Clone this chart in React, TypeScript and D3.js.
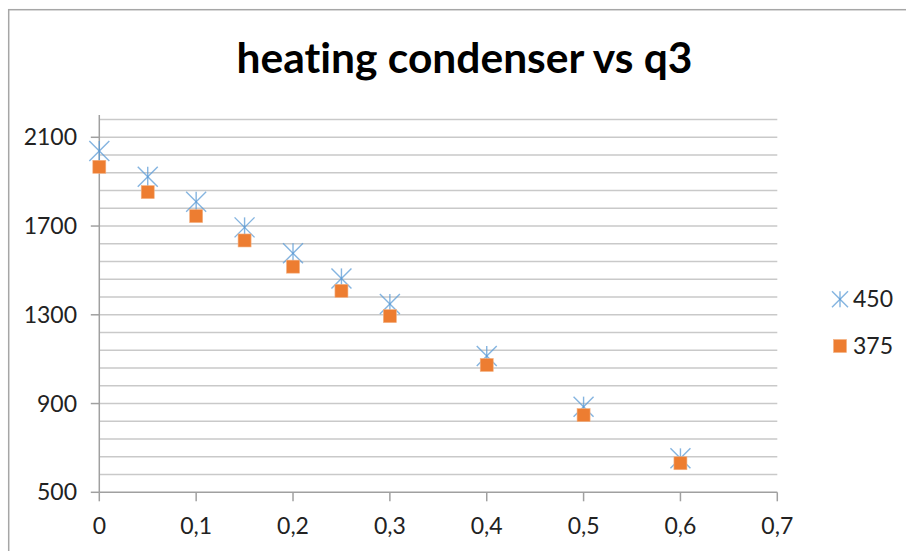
import React from "react";
import * as d3 from "d3";

const qValues = [0, 0.05, 0.1, 0.15, 0.2, 0.25, 0.3, 0.4, 0.5, 0.6];
const series450 = [2038, 1922, 1810, 1694, 1577, 1464, 1349, 1114, 886, 653];
const series375 = [1967, 1853, 1745, 1635, 1517, 1408, 1294, 1074, 848, 631];
const xTicks = [0, 0.1, 0.2, 0.3, 0.4, 0.5, 0.6, 0.7];
const yTicks = [500, 900, 1300, 1700, 2100];
const yMinorStep = 80;
const titleText = "heating condenser vs q3";
const legendLabels = ["450", "375"];

const W = 906;
const H = 551;
const FONT = "Lato, Carlito, Calibri, 'Open Sans', sans-serif";

export default function App() {
  const x = d3.scaleLinear().domain([0, 0.7]).range([99.3, 777.3]);
  const y = d3.scaleLinear().domain([500, 2200]).range([492.3, 115.1]);
  const minor = d3.range(500 + yMinorStep, 2200, yMinorStep);
  const fmt = (v: number) => String(v).replace(".", ",");

  const star = (cx: number, cy: number, r: number, key: string) => (
    <g key={key} stroke="#5B9BD5" strokeWidth={1.4} strokeOpacity={0.75} fill="none">
      <line x1={cx - r} y1={cy - r} x2={cx + r} y2={cy + r} />
      <line x1={cx - r} y1={cy + r} x2={cx + r} y2={cy - r} />
      <line x1={cx} y1={cy - r} x2={cx} y2={cy + r} />
    </g>
  );
  const square = (cx: number, cy: number, s: number, key: string) => (
    <rect key={key} x={cx - s / 2} y={cy - s / 2} width={s} height={s} fill="#ED7D31" stroke="#F4B183" strokeWidth={0.6} />
  );

  return (
    <svg width={W} height={H} style={{ position: "absolute", left: 0, top: 0, background: "#fff", fontVariantLigatures: "none" }} fontFamily={FONT}>
      <rect x={0} y={0} width={W} height={H} fill="#fff" />
      <rect x={8.7} y={9.7} width={W + 20} height={H + 20} fill="#fff" stroke="#a6a6a6" strokeWidth={1.5} />
      <text x={464.5} y={73} textAnchor="middle" fontSize={42.5} fontWeight="bold" fill="#000" style={{ fontVariantLigatures: "none" }}>{titleText}</text>

      {minor.map((v) => (
        <line key={"g" + v} x1={x(0)} x2={x(0.7)} y1={y(v)} y2={y(v)} stroke="#c9c9c9" strokeWidth={1.5} />
      ))}
      <line x1={x(0)} x2={x(0)} y1={y(2200)} y2={y(500)} stroke="#a0a0a0" strokeWidth={1.5} />
      <line x1={x(0)} x2={x(0.7)} y1={y(500)} y2={y(500)} stroke="#a0a0a0" strokeWidth={1.5} />
      {yTicks.map((v) => (
        <g key={"yt" + v}>
          <line x1={x(0) - 8.5} x2={x(0)} y1={y(v)} y2={y(v)} stroke="#a0a0a0" strokeWidth={1.5} />
          <text x={77} y={y(v)} dy="0.35em" textAnchor="end" fontSize={23} fill="#222">{v}</text>
        </g>
      ))}
      {xTicks.map((v) => (
        <g key={"xt" + v}>
          <line x1={x(v)} x2={x(v)} y1={y(500)} y2={y(500) + 9} stroke="#a0a0a0" strokeWidth={1.5} />
          <text x={x(v)} y={525.5} dy="0.35em" textAnchor="middle" fontSize={23} fill="#222">{fmt(v)}</text>
        </g>
      ))}

      {qValues.map((q, i) => star(x(q), y(series450[i]), 10, "s" + i))}
      {qValues.map((q, i) => square(x(q), y(series375[i]), 13, "q" + i))}

      {star(840, 299.3, 8, "ls")}
      <text x={853} y={299.3} dy="0.35em" fontSize={23} fill="#222">{legendLabels[0]}</text>
      {square(840, 346, 13, "lq")}
      <text x={853} y={346} dy="0.35em" fontSize={23} fill="#222">{legendLabels[1]}</text>
    </svg>
  );
}
